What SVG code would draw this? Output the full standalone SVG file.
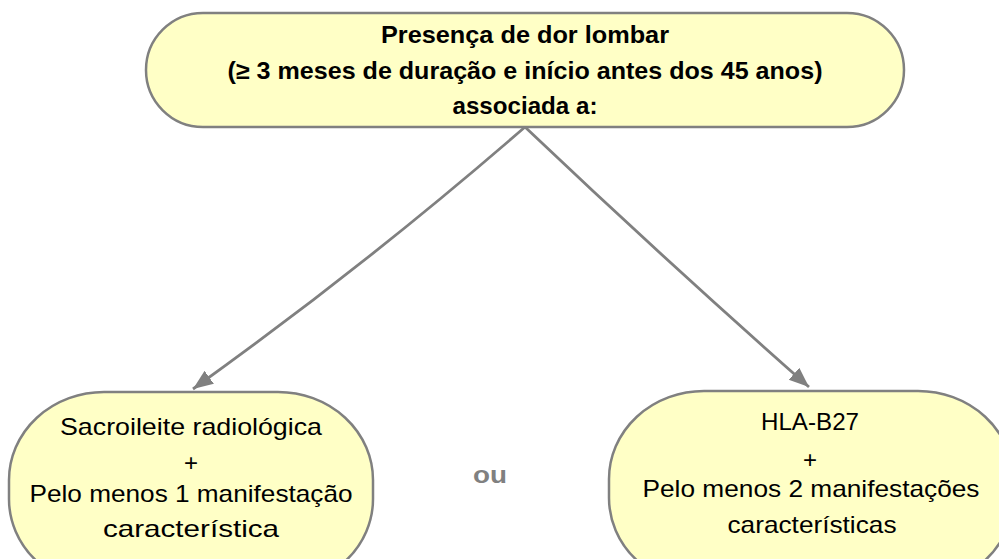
<svg xmlns="http://www.w3.org/2000/svg" width="999" height="559" viewBox="0 0 999 559">
<style>
.node{fill:#FFFFC6;stroke:#808080;stroke-width:2.5}
.t{font-family:"Liberation Sans",Arial,sans-serif;fill:#000;text-anchor:middle}
.b{font-weight:bold;font-size:24px}
.r{font-size:24px}
.conn{fill:none;stroke:#808080;stroke-width:2.8}
</style>
<defs>
<marker id="ah" markerUnits="userSpaceOnUse" markerWidth="22" markerHeight="18" refX="20" refY="8" orient="auto">
<path d="M0,0 L20,8 L0,16 z" fill="#808080"/>
</marker>
</defs>
<rect width="999" height="559" fill="#fff"/>
<g id="connectors">
<path class="conn" d="M525,127 Q365,266 193,389" marker-end="url(#ah)"/>
<path class="conn" d="M525,127 Q665,260 809,387" marker-end="url(#ah)"/>
</g>
<g id="top">
<rect class="node" x="146" y="13" width="758" height="114" rx="57" ry="57"/>
<text class="t b" x="525" y="43" textLength="288" lengthAdjust="spacingAndGlyphs">Presença de dor lombar</text>
<text class="t b" x="525" y="79" textLength="595" lengthAdjust="spacingAndGlyphs">(≥ 3 meses de duração e início antes dos 45 anos)</text>
<text class="t b" x="525" y="114" textLength="145" lengthAdjust="spacingAndGlyphs">associada a:</text>
</g>
<g id="left">
<rect class="node" x="9" y="392" width="364" height="195" rx="95" ry="88"/>
<text class="t r" x="191" y="435" textLength="262" lengthAdjust="spacingAndGlyphs">Sacroileite radiológica</text>
<text class="t r" x="191" y="471">+</text>
<text class="t r" x="191" y="502" textLength="323" lengthAdjust="spacingAndGlyphs">Pelo menos 1 manifestação</text>
<text class="t r" x="191" y="537" textLength="176" lengthAdjust="spacingAndGlyphs">característica</text>
</g>
<g id="right">
<rect class="node" x="609" y="391" width="404" height="195" rx="95" ry="88"/>
<text class="t r" x="810" y="430" textLength="98" lengthAdjust="spacingAndGlyphs">HLA-B27</text>
<text class="t r" x="810" y="468">+</text>
<text class="t r" x="811" y="497" textLength="337" lengthAdjust="spacingAndGlyphs">Pelo menos 2 manifestações</text>
<text class="t r" x="812" y="533" textLength="169" lengthAdjust="spacingAndGlyphs">características</text>
</g>
<g id="ou">
<text class="t b" x="490" y="483" style="fill:#808080" textLength="34" lengthAdjust="spacingAndGlyphs">ou</text>
</g>
</svg>
